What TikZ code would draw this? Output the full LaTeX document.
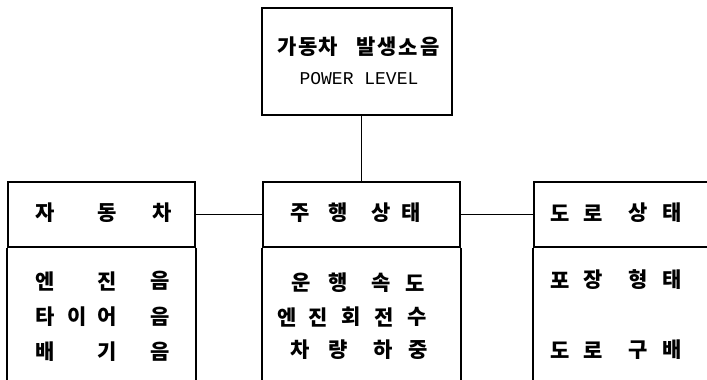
\documentclass[tikz,border=0pt]{standalone}
\usepackage{fontspec}
\newfontfamily\kr{Noto Sans CJK KR}
\newfontfamily\mono{Liberation Mono}
\begin{document}
\begin{tikzpicture}[x=1pt,y=-1pt,
  box/.style={draw,line width=1.6pt,rectangle,inner sep=0pt},
  ln/.style={line width=1.6pt},
  ch/.style={inner sep=0pt,font=\kr\bfseries\fontsize{21}{21}\selectfont},
  en/.style={inner sep=0pt,font=\mono\fontsize{18}{18}\selectfont}]
\useasboundingbox (0,0) rectangle (707,380);
\clip (0,0) rectangle (707,380);
% top box
\node[box,minimum width=190pt,minimum height=107pt] (top) at (357,61.5) {};
\foreach \x/\c [count=\i] in {287/가,308/동,328/차,366/발,387/생,408/소,430/음}
  \node[ch] (t\i) at (\x,47) {\c};
\node[en] (pl) at (359,79) {POWER LEVEL};
% header boxes
\node[box,minimum width=187pt,minimum height=65pt] (car) at (101.5,214.5) {};
\node[box,minimum width=197pt,minimum height=65pt] (drive) at (361.5,214.5) {};
\node[box,minimum width=190pt,minimum height=65pt] (road) at (629,214.5) {};
% open lower parts
\draw[ln] (car.south west) -- ++(0,140);
\draw[ln] (car.south east) -- ++(0,140);
\draw[ln] (drive.south west) -- ++(0,140);
\draw[ln] (drive.south east) -- ++(0,140);
\draw[ln] (road.south west) -- ++(0,140);
% connectors
\draw[ln] (drive.north) -- (drive.north |- top.south);
\draw[ln] (car.east) -- (drive.west);
\draw[ln] (drive.east) -- (road.west);
% left texts
\foreach \x/\c [count=\i] in {45/자,107/동,162/차} \node[ch] (ca\i) at (\x,213) {\c};
\foreach \x/\c [count=\i] in {45/엔,107/진,160/음} \node[ch] (cb\i) at (\x,281) {\c};
\foreach \x/\c [count=\i] in {45/타,77/이,107/어,160/음} \node[ch] (cc\i) at (\x,317) {\c};
\foreach \x/\c [count=\i] in {45/배,107/기,160/음} \node[ch] (cd\i) at (\x,352) {\c};
% middle texts
\foreach \x/\c [count=\i] in {300/주,338/행,381/상,411/태} \node[ch] (da\i) at (\x,213) {\c};
\foreach \x/\c [count=\i] in {301/운,338/행,381/속,415/도} \node[ch] (db\i) at (\x,283) {\c};
\foreach \x/\c [count=\i] in {287/엔,318/진,351/회,384/전,417/수} \node[ch] (dc\i) at (\x,317) {\c};
\foreach \x/\c [count=\i] in {300/차,338/량,383/하,418/중} \node[ch] (dd\i) at (\x,350) {\c};
% right texts
\foreach \x/\c [count=\i] in {560/도,593/로,638/상,672/태} \node[ch] (ra\i) at (\x,213) {\c};
\foreach \x/\c [count=\i] in {560/포,593/장,638/형,672/태} \node[ch] (rb\i) at (\x,280) {\c};
\foreach \x/\c [count=\i] in {560/도,593/로,638/구,672/배} \node[ch] (rc\i) at (\x,350) {\c};
\end{tikzpicture}
\end{document}
